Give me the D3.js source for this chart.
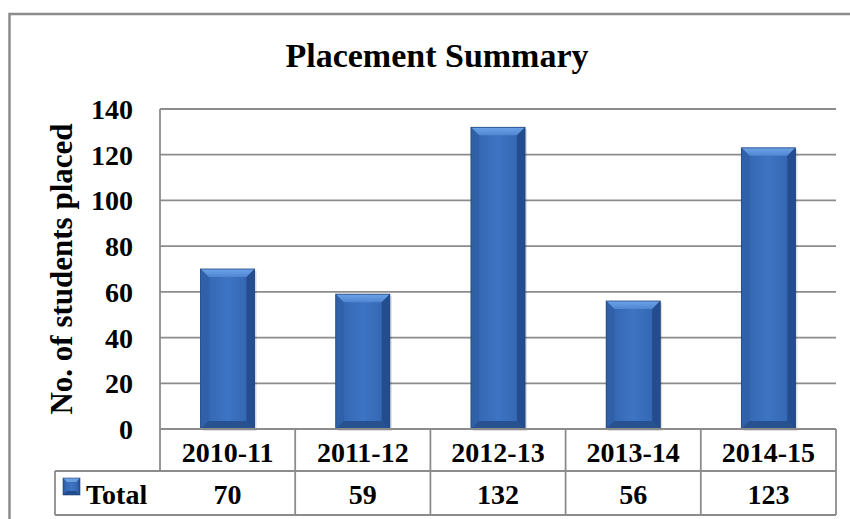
<!DOCTYPE html>
<html>
<head>
<meta charset="utf-8">
<script src="https://cdn.jsdelivr.net/npm/d3@7/dist/d3.min.js"></script>
<style>
  html, body { margin: 0; padding: 0; background: #fff; }
  text { font-family: "Liberation Serif", "Times New Roman", serif; font-weight: bold; fill: #000; }
</style>
</head>
<body>
<div id="chartDiv"></div>
<script>
// data
const years = ["2010-11", "2011-12", "2012-13", "2013-14", "2014-15"];
const totals = [70, 59, 132, 56, 123];
const yTicks = [0, 20, 40, 60, 80, 100, 120, 140];
const seriesName = "Total";
const chartTitle = "Placement Summary";
const yTitle = "No. of students placed";

var canvasW = 850;
var canvasH = 519;
const svg = d3.select('#chartDiv')
	.append('svg')
	.attr('width', canvasW)
	.attr('height', canvasH);

const plot = {left: 160, right: 836, top: 109, bottom: 429};
const rowH = [429, 471, 515];
const lineCol = '#8c8c8c';

// gradients for the bars
const defs = svg.append('defs');
const body = defs.append('linearGradient').attr('id', 'barBody')
	.attr('x1', 0).attr('x2', 1).attr('y1', 0).attr('y2', 0);
body.append('stop').attr('offset', '0%').attr('stop-color', '#2a5597');
body.append('stop').attr('offset', '18%').attr('stop-color', '#3669b5');
body.append('stop').attr('offset', '50%').attr('stop-color', '#3d74c3');
body.append('stop').attr('offset', '82%').attr('stop-color', '#3669b5');
body.append('stop').attr('offset', '100%').attr('stop-color', '#244c8a');

const topGrad = defs.append('linearGradient').attr('id', 'barTop')
	.attr('x1', 0).attr('x2', 0).attr('y1', 0).attr('y2', 1);
topGrad.append('stop').attr('offset', '0%').attr('stop-color', '#6da3e6');
topGrad.append('stop').attr('offset', '100%').attr('stop-color', '#4f86d2');

// outer frame
svg.append('rect')
	.attr('x', 9.5).attr('y', 14)
	.attr('width', 860).attr('height', 530)
	.attr('fill', 'none')
	.attr('stroke', lineCol)
	.attr('stroke-width', 2.5);

// title
svg.append('text')
	.attr('x', 437).attr('y', 67)
	.attr('text-anchor', 'middle')
	.style('font-size', '34px')
	.text(chartTitle);

// scales
const y = d3.scaleLinear().domain([0, 140]).range([plot.bottom, plot.top]);
const x = d3.scaleBand().domain(years).range([plot.left, plot.right])
	.paddingInner(0.6).paddingOuter(0.3);
const col = d3.scaleBand().domain(years).range([plot.left, plot.right]);

// gridlines
svg.append('g').selectAll('line')
	.data(yTicks.filter(d => d > 0))
	.enter().append('line')
	.attr('x1', plot.left).attr('x2', plot.right)
	.attr('y1', d => y(d)).attr('y2', d => y(d))
	.attr('stroke', lineCol).attr('stroke-width', 1.8);

// y axis
const yAxis = d3.axisLeft(y).tickValues(yTicks).tickSize(0).tickPadding(27);
const yAxisGroup = svg.append('g')
	.attr('transform', `translate(${plot.left},0)`)
	.call(yAxis);
yAxisGroup.select('.domain').remove();
yAxisGroup.selectAll('text')
	.style('font-size', '28px')
	.attr('font-family', null)
	.attr('dy', '0.34em');

svg.append('line')
	.attr('x1', plot.left).attr('x2', plot.left)
	.attr('y1', plot.top).attr('y2', rowH[1])
	.attr('stroke', lineCol).attr('stroke-width', 1.8);

// y title
svg.append('text')
	.attr('transform', `translate(72,${(plot.top + plot.bottom) / 2}) rotate(-90)`)
	.attr('text-anchor', 'middle')
	.style('font-size', '31px')
	.text(yTitle);

// bars
const bars = svg.append('g').selectAll('g.bar')
	.data(totals)
	.enter().append('g')
	.attr('class', 'bar');

const bev = 8;
bars.each(function(d, i) {
	const g = d3.select(this);
	const x0 = x(years[i]), w = x.bandwidth();
	const y0 = y(d), y1 = y(0);
	// shadow
	g.append('rect')
		.attr('x', x0 + 2).attr('y', y0 + 2)
		.attr('width', w).attr('height', y1 - y0)
		.attr('fill', 'rgba(0,0,0,0.12)');
	g.append('rect')
		.attr('x', x0).attr('y', y0)
		.attr('width', w).attr('height', y1 - y0)
		.attr('fill', 'url(#barBody)');
	// top bevel
	g.append('path')
		.attr('d', `M${x0},${y0}L${x0 + w},${y0}L${x0 + w - bev},${y0 + bev}L${x0 + bev},${y0 + bev}Z`)
		.attr('fill', 'url(#barTop)');
	// left bevel
	g.append('path')
		.attr('d', `M${x0},${y0}L${x0 + bev},${y0 + bev}L${x0 + bev},${y1 - bev}L${x0},${y1}Z`)
		.attr('fill', '#2f60a8');
	// right bevel
	g.append('path')
		.attr('d', `M${x0 + w},${y0}L${x0 + w - bev},${y0 + bev}L${x0 + w - bev},${y1 - bev}L${x0 + w},${y1}Z`)
		.attr('fill', '#244d8e');
	// bottom bevel
	g.append('path')
		.attr('d', `M${x0},${y1}L${x0 + bev},${y1 - bev}L${x0 + w - bev},${y1 - bev}L${x0 + w},${y1}Z`)
		.attr('fill', '#28528f');
	g.append('rect')
		.attr('x', x0).attr('y', y0)
		.attr('width', w).attr('height', y1 - y0)
		.attr('fill', 'none')
		.attr('stroke', '#1f467f').attr('stroke-width', 0.8);
});

// data table
const table = svg.append('g');
table.append('line')
	.attr('x1', plot.left).attr('x2', plot.right)
	.attr('y1', rowH[0]).attr('y2', rowH[0])
	.attr('stroke', lineCol).attr('stroke-width', 1.8);
table.append('line')
	.attr('x1', 55).attr('x2', plot.right)
	.attr('y1', rowH[1]).attr('y2', rowH[1])
	.attr('stroke', lineCol).attr('stroke-width', 1.8);
table.append('line')
	.attr('x1', 55).attr('x2', plot.right)
	.attr('y1', rowH[2]).attr('y2', rowH[2])
	.attr('stroke', lineCol).attr('stroke-width', 1.8);
table.append('line')
	.attr('x1', 55).attr('x2', 55)
	.attr('y1', rowH[1]).attr('y2', rowH[2])
	.attr('stroke', lineCol).attr('stroke-width', 1.8);
table.selectAll('line.sep')
	.data(years)
	.enter().append('line')
	.attr('class', 'sep')
	.attr('x1', d => col(d) + col.bandwidth()).attr('x2', d => col(d) + col.bandwidth())
	.attr('y1', rowH[0]).attr('y2', rowH[2])
	.attr('stroke', lineCol).attr('stroke-width', 1.8);

table.selectAll('text.cat')
	.data(years)
	.enter().append('text')
	.attr('class', 'cat')
	.attr('x', d => col(d) + col.bandwidth() / 2)
	.attr('y', (rowH[0] + rowH[1]) / 2)
	.attr('dy', '0.44em')
	.attr('text-anchor', 'middle')
	.style('font-size', '28px')
	.text(d => d);

table.selectAll('text.val')
	.data(totals)
	.enter().append('text')
	.attr('class', 'val')
	.attr('x', (d, i) => col(years[i]) + col.bandwidth() / 2)
	.attr('y', (rowH[1] + rowH[2]) / 2)
	.attr('dy', '0.4em')
	.attr('text-anchor', 'middle')
	.style('font-size', '28px')
	.text(d => d);

// legend key
const key = table.append('g').attr('transform', 'translate(63,478)');
key.append('rect').attr('width', 17).attr('height', 17).attr('fill', 'url(#barBody)');
key.append('path').attr('d', 'M0,0L17,0L13,4L4,4Z').attr('fill', '#6a9ee0');
key.append('path').attr('d', 'M0,17L17,17L13,13L4,13Z').attr('fill', '#234c8c');
key.append('rect').attr('width', 17).attr('height', 17).attr('fill', 'none')
	.attr('stroke', '#1f467f').attr('stroke-width', 0.6);

table.append('text')
	.attr('x', 86)
	.attr('y', (rowH[1] + rowH[2]) / 2)
	.attr('dy', '0.4em')
	.style('font-size', '28px')
	.text(seriesName);
</script>
</body>
</html>
